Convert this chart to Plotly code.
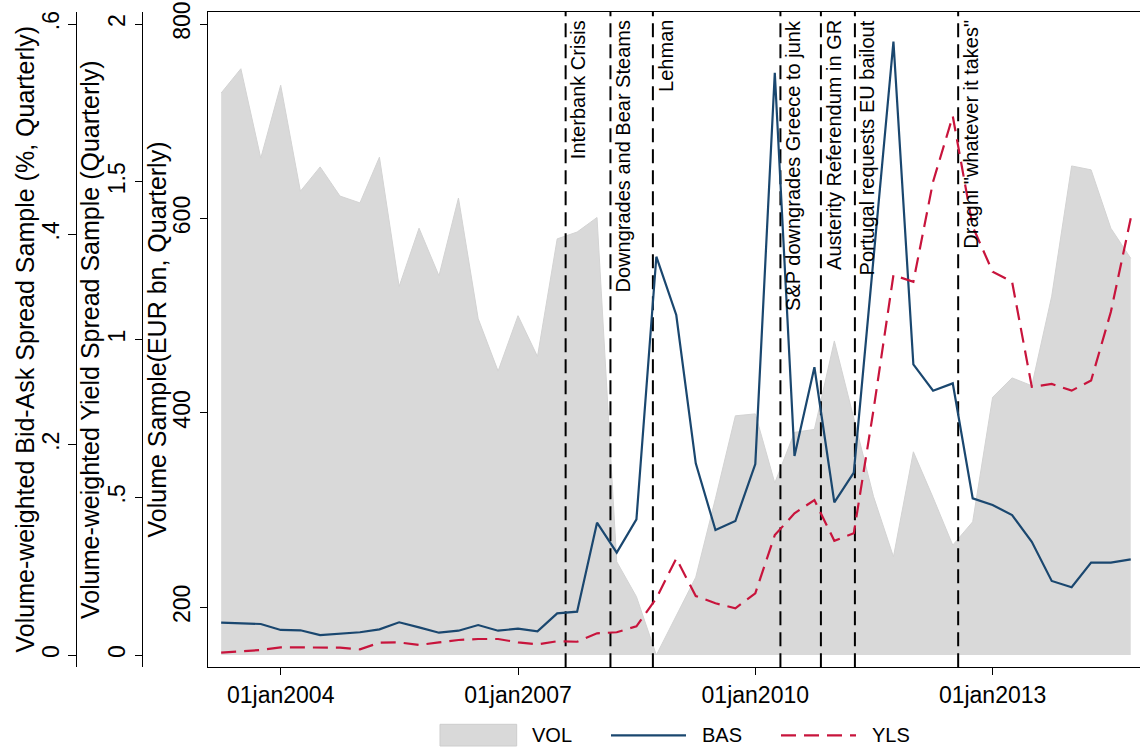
import pandas as pd
import plotly.graph_objects as go

# Quarterly observations, 2003Q2 - 2014Q4 (dated at the first day of each quarter)
quarters = pd.date_range("2003-04-01", "2014-10-01", freq="QS")

# Traded volume, EUR bn
vol = [729, 754, 662, 737, 628, 653, 623, 616, 663, 530, 590, 541, 621, 497, 443, 500,
       458, 579, 586, 601, 247, 211, 151, 192, 231, 312, 397, 399, 328, 380, 383, 474,
       396, 314, 252, 360, 313, 264, 288, 416, 436, 428, 520, 654, 650, 590, 559]

# Volume-weighted bid-ask spread, %
bas = [0.0307, 0.0301, 0.0295, 0.0238, 0.0235, 0.0190, 0.0200, 0.0216, 0.0244, 0.0311,
       0.0263, 0.0212, 0.0231, 0.0285, 0.0231, 0.0250, 0.0225, 0.0396, 0.0412, 0.1258,
       0.0973, 0.1290, 0.3787, 0.3233, 0.1823, 0.1189, 0.1274, 0.1816, 0.5537, 0.1892,
       0.2736, 0.1452, 0.1734, 0.3780, 0.5832, 0.2764, 0.2513, 0.2583, 0.1490, 0.1426,
       0.1331, 0.1077, 0.0704, 0.0644, 0.0878, 0.0878, 0.0910]

# Volume-weighted yield spread
yls = [0.0074, 0.0127, 0.0158, 0.0243, 0.0243, 0.0243, 0.0233, 0.0180, 0.0390, 0.0400,
       0.0317, 0.0400, 0.0475, 0.0507, 0.0507, 0.0400, 0.0338, 0.0437, 0.0420, 0.0687,
       0.0720, 0.0910, 0.1800, 0.3060, 0.1870, 0.1640, 0.1480, 0.1955, 0.3800, 0.4490,
       0.4910, 0.3620, 0.3860, 0.7770, 1.2040, 1.1830, 1.5000, 1.7080, 1.3580, 1.2150,
       1.1830, 0.8500, 0.8590, 0.8380, 0.8700, 1.0870, 1.3840]

# Crisis events marked with vertical lines
event_dates = ["2007-08-09", "2008-03-03", "2008-09-15", "2010-04-27",
               "2010-10-31", "2011-04-06", "2012-07-26"]
event_labels = ["Interbank Crisis", "Downgrades and Bear Steams", "Lehman",
                "S&P downgrades Greece to junk", "Austerity Referendum in GR",
                "Portugal requests EU bailout", 'Draghi "whatever it takes"']

# Axis ticks
x_tick_dates = ["2004-01-01", "2007-01-01", "2010-01-01", "2013-01-01"]
x_tick_text = ["01jan2004", "01jan2007", "01jan2010", "01jan2013"]
vol_ticks = [200, 400, 600, 800]
bas_ticks = [0, 0.2, 0.4, 0.6]
bas_tick_text = ["0", ".2", ".4", ".6"]
yls_ticks = [0, 0.5, 1, 1.5, 2]
yls_tick_text = ["0", ".5", "1", "1.5", "2"]

# ---- layout geometry (pixels) ----
W, H = 1140, 749
FONT = "Liberation Sans, Arial, Helvetica, sans-serif"
plot_left, plot_right = 208.3, 1140.0
plot_top, plot_bottom = 11.7, 667.3
data_top, data_bottom = 24.0, 655.0          # inner plot region (tick extremes)
axis_bas_x, axis_yls_x = 76.0, 142.3


def px_x(p):
    return p / W


def px_y(p):
    return 1 - p / H


# the tick extremes sit 12.3 px inside the plot region on every axis
pad = (data_top - plot_top) / (data_bottom - data_top)


def padded(lo, hi):
    span = hi - lo
    return [lo - pad * span, hi + pad * span]


vol_base = min(vol)
vol_range = padded(vol_base, 800)
bas_range = padded(0, 0.6)
yls_range = padded(0, 2)

# x range: 01jan2004 at 280.7 px, 01jan2010 at 755.3 px
ref0, ref1 = pd.Timestamp("2004-01-01"), pd.Timestamp("2010-01-01")
p0, p1 = 280.7, 755.3
px_per_day = (p1 - p0) / (ref1 - ref0).days
x_lo = ref0 - pd.Timedelta(days=(p0 - plot_left) / px_per_day)
x_hi = ref0 + pd.Timedelta(days=(plot_right - p0) / px_per_day)

NAVY = "#1a476f"
RED = "#c8143c"
GREY = "#d9d9d9"

fig = go.Figure()

# VOL area, filled down to the lowest observed volume
fig.add_trace(go.Scatter(x=quarters, y=[vol_base] * len(quarters), mode="lines",
                         line=dict(width=0), hoverinfo="skip", showlegend=False,
                         yaxis="y"))
fig.add_trace(go.Scatter(x=quarters, y=vol, mode="lines", name="VOL",
                         fill="tonexty", fillcolor=GREY,
                         line=dict(color="#d3d3d3", width=1), showlegend=False,
                         yaxis="y"))

# event lines
ex, ey = [], []
for d in event_dates:
    ex += [d, d, None]
    ey += [vol_range[0], vol_range[1], None]
fig.add_trace(go.Scatter(x=ex, y=ey, mode="lines",
                         line=dict(color="black", width=2, dash="14px,7px"),
                         hoverinfo="skip", showlegend=False, yaxis="y",
                         cliponaxis=False))

# BAS and YLS
fig.add_trace(go.Scatter(x=quarters, y=bas, mode="lines", name="BAS",
                         line=dict(color=NAVY, width=2.2), showlegend=False,
                         yaxis="y2"))
fig.add_trace(go.Scatter(x=quarters, y=yls, mode="lines", name="YLS",
                         line=dict(color=RED, width=2.2, dash="15px,8px"),
                         showlegend=False, yaxis="y3"))

ydom = [px_y(plot_bottom), px_y(plot_top)]
axis_common = dict(showline=True, linecolor="black", linewidth=1.2, ticks="outside",
                   ticklen=7.7, tickwidth=1.2, tickcolor="black", showgrid=False,
                   zeroline=False, tickangle=-90, automargin=False,
                   tickfont=dict(family=FONT, size=23, color="black"), side="left")

fig.update_layout(
    width=W, height=H, autosize=False,
    margin=dict(l=0, r=0, t=0, b=0),
    paper_bgcolor="white", plot_bgcolor="white",
    font=dict(family=FONT, color="black"),
    showlegend=False,
    xaxis=dict(domain=[px_x(plot_left), px_x(plot_right)], type="date",
               range=[x_lo, x_hi], showline=True, mirror=True, linecolor="black",
               linewidth=1.2, ticks="outside", ticklen=6.5, tickwidth=1.2,
               tickcolor="black", tickvals=x_tick_dates, ticktext=x_tick_text,
               tickfont=dict(family=FONT, size=23, color="black"),
               showgrid=False, zeroline=False, automargin=False),
    yaxis=dict(domain=ydom, range=vol_range, tickvals=vol_ticks,
               anchor="x", **axis_common),
    yaxis2=dict(range=bas_range, tickvals=bas_ticks, ticktext=bas_tick_text,
                overlaying="y", anchor="free", position=px_x(axis_bas_x),
                **axis_common),
    yaxis3=dict(range=yls_range, tickvals=yls_ticks, ticktext=yls_tick_text,
                overlaying="y", anchor="free", position=px_x(axis_yls_x),
                **axis_common),
)

annotations = []
# axis titles
mid = px_y((plot_top + plot_bottom) / 2)
for xc, txt in [(24, "Volume-weighted Bid-Ask Spread Sample (%, Quarterly)"),
                (89.5, "Volume-weighted Yield Spread Sample (Quarterly)"),
                (156, "Volume Sample(EUR bn, Quarterly)")]:
    annotations.append(dict(x=px_x(xc), y=mid, xref="paper", yref="paper",
                            text=txt, textangle=-90, showarrow=False,
                            xanchor="center", yanchor="middle",
                            font=dict(family=FONT, size=25, color="black")))

# event labels
for d, lab in zip(event_dates, event_labels):
    annotations.append(dict(x=d, y=px_y(18), xref="x", yref="paper", text=lab,
                            textangle=-90, showarrow=False, xanchor="left",
                            yanchor="top", xshift=0,
                            font=dict(family=FONT, size=20, color="black")))

# legend
leg_y = 735.3
shapes = [
    dict(type="rect", xref="paper", yref="paper", x0=px_x(440), x1=px_x(516.7),
         y0=px_y(746), y1=px_y(724.3), fillcolor=GREY,
         line=dict(color="#cdcdcd", width=1)),
    dict(type="line", xref="paper", yref="paper", x0=px_x(611), x1=px_x(686),
         y0=px_y(leg_y), y1=px_y(leg_y), line=dict(color=NAVY, width=2.2)),
    dict(type="line", xref="paper", yref="paper", x0=px_x(781), x1=px_x(856),
         y0=px_y(leg_y), y1=px_y(leg_y),
         line=dict(color=RED, width=2.2, dash="15px,8px")),
]
for xl, txt in [(531.7, "VOL"), (701.7, "BAS"), (871.7, "YLS")]:
    annotations.append(dict(x=px_x(xl), y=px_y(leg_y), xref="paper", yref="paper",
                            text=txt, showarrow=False, xanchor="left",
                            yanchor="middle", xshift=-2,
                            font=dict(family=FONT, size=20, color="black")))

fig.update_layout(annotations=annotations, shapes=shapes)
fig.write_html("out.html")
